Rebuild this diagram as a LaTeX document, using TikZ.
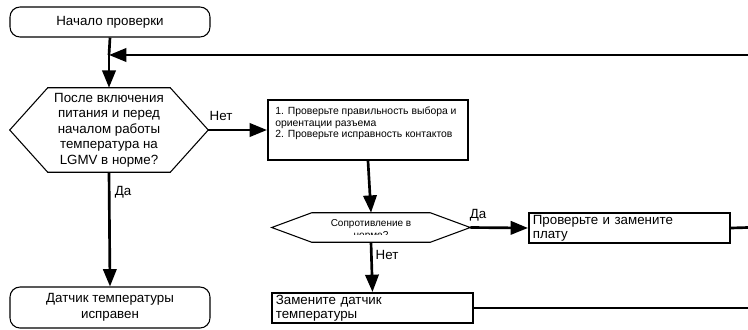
\documentclass[tikz,border=0pt]{standalone}
\usepackage{fontspec}
\setmainfont{Liberation Sans}
\usetikzlibrary{arrows.meta}
\begin{document}
\begin{tikzpicture}[x=0.75pt,y=-0.75pt,
  term/.style={draw=black, line width=0.8pt, rounded corners=7.5pt, minimum width=150pt, align=center, inner sep=0pt, font=\fontsize{10}{11.6}\selectfont},
  hexnode/.style={inner sep=0pt, align=center},
  hexline/.style={draw=black, line width=0.8pt},
  boxnode/.style={draw=black, line width=1.5pt, inner sep=0pt},
  txtbox/.style={draw=black, line width=1.5pt, inner xsep=2.5pt, inner ysep=0pt, align=left, text width=145pt, minimum height=22.5pt, font=\fontsize{10}{10.5}\selectfont},
  conn/.style={line width=2pt, -{Triangle[length=13pt,width=10pt]}},
  plain/.style={line width=2pt},
  lbl/.style={font=\fontsize{10}{12}\selectfont, inner sep=0pt}
]
\useasboundingbox (0,0) rectangle (748,329);

% start / end terminals
\node[term, minimum height=22.5pt] (start) at (110,22) {Начало проверки};
\node[term, minimum height=30.75pt] (end) at (110,307.5) {Датчик температуры\\исправен};

% decision 1
\node[hexnode, minimum width=148.5pt, minimum height=63pt, font=\fontsize{10}{11.6}\selectfont] (d1) at (109,130)
  {После включения\\питания и перед\\началом работы\\температура на\\LGMV в норме?};
\draw[hexline] (d1.west) -- ([xshift=28.5pt]d1.north west) -- ([xshift=-28.5pt]d1.north east)
  -- (d1.east) -- ([xshift=-28.5pt]d1.south east) -- ([xshift=28.5pt]d1.south west) -- cycle;

% box 1
\node[boxnode, minimum width=150pt, minimum height=45pt] (b1) at (368,130) {};
\node[anchor=north west, inner sep=0pt, align=left, font=\fontsize{7.8}{8.6}\selectfont] (b1t) at (275,107)
  {1. Проверьте правильность выбора и\\ориентации разъема\\2. Проверьте исправность контактов};

% decision 2
\node[hexnode, minimum width=148.5pt, minimum height=21.75pt] (d2) at (371,227.5) {};
\draw[hexline] (d2.west) -- ([xshift=30pt]d2.north west) -- ([xshift=-30pt]d2.north east)
  -- (d2.east) -- ([xshift=-30pt]d2.south east) -- ([xshift=30pt]d2.south west) -- cycle;
\begin{scope}
  \clip (300,214) rectangle (440,234.5);
  \node[inner sep=0pt, align=center, font=\fontsize{7.5}{9.5}\selectfont] (d2t) at (371,230) {Сопротивление в\\норме?};
\end{scope}

% boxes 2 and 3
\node[txtbox, minimum width=150.75pt] (b2) at (629.5,228) {Проверьте и замените\\плату};
\node[txtbox, minimum width=150.75pt] (b3) at (372.5,308) {Замените датчик\\температуры};

% return line coordinates at right edge
\coordinate (r0) at (748,55);
\coordinate (r2) at (748,227.5);
\coordinate (r3) at (748,308);
\coordinate (j) at (109,55);

% connectors
\draw[plain] (start.south) -- (j);
\draw[conn] (j) -- (d1.north);
\draw[conn] (r0) -- (j);
\draw[conn] (d1.east) -- (b1.west);
\draw[conn] (d1.south) -- (end.north);
\draw[conn] (b1.south) -- (d2.north);
\draw[conn] (d2.east) -- (b2.west);
\draw[conn] (d2.south) -- (b3.north);
\draw[plain] (b2.east) -- (r2);
\draw[plain] (b3.east) -- (r3);

% labels
\node[lbl] (l1) at (221,116) {Нет};
\node[lbl] (l2) at (123,192) {Да};
\node[lbl] (l3) at (478,215) {Да};
\node[lbl] (l4) at (387,255) {Нет};
\end{tikzpicture}
\end{document}
